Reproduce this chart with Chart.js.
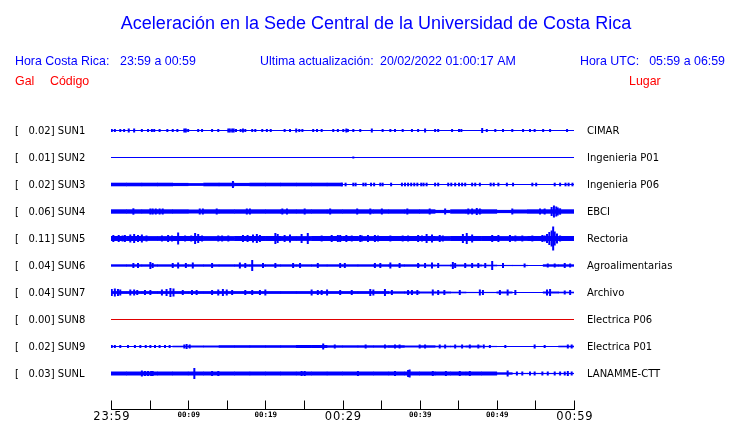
<!DOCTYPE html>
<html><head><meta charset="utf-8">
<script src="https://cdn.jsdelivr.net/npm/chart.js@4.4.1/dist/chart.umd.min.js"></script>
<style>html,body{margin:0;padding:0;background:#fff;overflow:hidden}</style>
</head><body><canvas id="c" width="740" height="423"></canvas>
<script>
// ---------------- DATA ----------------
const codes  = ['SUN1','SUN2','SUN3','SUN4','SUN5','SUN6','SUN7','SUN8','SUN9','SUNL'];
const peakGal = [0.02, 0.01, 0.02, 0.06, 0.11, 0.04, 0.04, 0.00, 0.02, 0.03];
const places = ['CIMAR','Ingenieria P01','Ingenieria P06','EBCI','Rectoria','Agroalimentarias','Archivo','Electrica P06','Electrica P01','LANAMME-CTT'];
const tickMinutes = [0,5,10,15,20,25,30,35,40,45,50,55,60];
const tickLabels = ['23:59','00:09','00:19','00:29','00:39','00:49','00:59'];
const tickLabelMinutes = [0,10,20,30,40,50,60];
const majorLabelMinutes = [0,30,60];
// noise band half-amplitude per 2-minute segment (30 segments)
const bandSUN1 = [0,0,0,0,0,0,0,0,0,0,0,0,0,0,0,0,0,0,0,0,0,0,0,0,0,0,0,0,0,0];
const bandSUN2 = [0,0,0,0,0,0,0,0,0,0,0,0,0,0,0,0,0,0,0,0,0,0,0,0,0,0,0,0,0,0];
const bandSUN3 = [1.8,1.8,1.8,1.8,1.6,1.4,1.8,1.8,1.6,1.8,1.8,1.8,1.8,1.8,1.8,0,0,0,0,0,0,0,0,0,0,0,0,0,0,0];
const bandSUN4 = [2.2,2.2,2.2,2.2,2.2,2.0,2.2,2.2,2.2,2.2,2.2,2.2,2.2,2.2,2.2,2.2,2.2,2.2,2.2,2.2,2.2,1.6,2.2,2.2,2.2,1.6,2.0,2.2,2.2,2.2];
const bandSUN5 = [2.5,2.5,2.4,2.4,2.5,2.5,2.4,2.4,2.5,2.5,2.5,2.4,2.4,2.5,2.5,2.5,2.4,2.5,2.5,2.5,2.5,2.4,2.5,2.5,2.5,2.4,2.4,2.5,2.5,2.5];
const bandSUN6 = [1.2,1.2,1.2,1.2,1.2,1.2,1.2,1.2,1.2,1.2,1.2,1.2,1.2,1.2,1.2,1.2,1.2,1.2,1.2,1.2,1.0,0.8,1.0,1.0,0.8,0.6,0.6,0.5,1.2,1.2];
const bandSUN7 = [1.4,1.4,1.4,1.4,1.4,1.4,1.4,1.4,1.4,1.4,1.4,1.4,1.4,1.4,1.4,1.4,1.4,1.4,1.2,1.2,1.0,1.0,0.8,0.6,0.6,1.0,0.5,0.5,1.0,0.8];
const bandSUN8 = [0,0,0,0,0,0,0,0,0,0,0,0,0,0,0,0,0,0,0,0,0,0,0,0,0,0,0,0,0,0];
const bandSUN9 = [0.5,0.5,0.5,0.5,0.8,1.0,1.0,1.3,1.3,1.3,1.3,1.3,1.5,1.5,1.2,1.2,1.2,1.2,1.3,1.0,1.2,0.8,0.8,1.0,0.6,0.5,0.5,0.5,0.5,0.8];
const bandSUNL = [2.0,2.0,2.0,2.0,2.0,2.0,2.0,2.0,2.0,2.0,2.0,2.0,2.0,2.0,2.0,2.0,2.0,2.0,2.0,2.0,2.0,2.0,2.0,2.0,2.0,1.2,0.6,0.6,0.6,0.6];
// bursts: [minute, half-amplitude]
const spikesSUN1 = [[0.1,1.5],[0.5,1.5],[1.2,1.5],[1.7,1.5],[2.3,2],[3.0,2],[4.0,1.5],[4.8,1.5],[5.3,1.5],[5.6,1.5],[6.3,1.5],[7.3,1.5],[8.0,1.5],[8.6,1.5],[9.5,2],[9.7,2],[10.0,1.5],[11.3,1.5],[11.8,1.5],[13.1,1.5],[13.9,1.5],[15.2,2],[15.4,2],[15.7,2],[15.9,2],[16.2,1.5],[16.8,1.5],[17.1,2],[17.4,1.5],[18.3,1.5],[18.7,1.5],[19.6,1.5],[20.2,1.5],[20.7,1.5],[22.5,1.5],[23.2,1.5],[24.0,2],[24.4,1.5],[24.8,1.5],[26.2,1.5],[26.7,1.5],[27.3,1.5],[28.8,1.5],[29.4,1.5],[30.1,1.5],[30.5,2],[30.7,1.5],[31.4,1.5],[32.3,1.5],[33.8,2],[35.2,1.5],[36.2,1.5],[36.8,1.5],[37.8,1.5],[39.0,1.5],[39.8,1.5],[40.7,2],[42.0,1.5],[42.4,1.5],[44.2,1.5],[45.1,1.5],[45.4,1.5],[48.1,2.5],[48.7,1.5],[49.8,1.5],[50.8,1.5],[52.0,1.5],[53.4,1.5],[54.3,1.5],[54.9,1.5],[56.0,1.5],[56.9,1.5],[59.1,1.5]];
const spikesSUN2 = [[31.4,1]];
const spikesSUN3 = [[15.8,3.5],[29.9,1.8],[30.4,1.8],[31.4,1.8],[31.7,1.8],[32.7,1.8],[33.0,1.8],[33.7,1.8],[34.1,1.8],[34.9,1.8],[35.2,1.8],[36.3,1.8],[37.7,1.8],[38.1,1.8],[38.5,1.8],[38.9,1.8],[39.3,1.8],[39.7,1.8],[40.2,1.8],[40.5,1.8],[40.9,1.8],[42.0,1.8],[42.4,1.8],[43.7,1.8],[44.1,1.8],[44.6,1.8],[45.1,1.8],[45.5,1.8],[45.9,1.8],[46.8,1.8],[47.2,1.8],[47.8,1.8],[49.2,1.8],[49.6,1.8],[50.2,1.8],[51.3,1.8],[52.1,1.8],[54.6,1.8],[55.1,1.8],[57.5,1.8],[58.2,1.8],[58.9,1.8],[59.3,1.8],[59.8,1.8]];
const spikesSUN4 = [[2.9,3.2],[5.1,3],[5.4,3],[5.8,3],[6.3,3],[6.7,3],[11.5,3],[11.9,3],[13.7,3],[17.6,3],[18.0,3],[22.2,3],[22.8,3],[25.1,3],[28.4,3],[31.9,3],[33.6,3],[35.1,3],[38.4,3],[41.3,3],[43.3,3],[46.3,3],[46.8,3],[47.4,3.5],[47.8,3],[52.0,3],[55.6,3],[56.2,3],[57.1,4.5],[57.4,6],[57.7,5],[57.9,4],[58.2,3.2]];
const spikesSUN5 = [[0.3,3.5],[1.0,3.5],[1.5,3],[1.8,3.5],[2.5,4],[3.0,4.5],[3.5,3.5],[4.0,4],[4.6,3],[6.6,3],[7.4,3.5],[7.9,3],[8.7,6],[9.6,3],[10.4,3],[10.9,5.5],[11.3,4.5],[11.8,3],[13.9,3],[14.4,3],[15.2,3],[17.1,3.5],[17.7,3.5],[18.4,4],[18.9,4.5],[19.3,3.5],[21.3,5.5],[21.6,4.5],[22.5,3.5],[23.2,4],[24.7,4.5],[25.5,5.5],[27.3,3],[28.6,3.5],[29.4,3.5],[29.7,3.5],[30.5,3.5],[31.2,3],[32.3,3.5],[32.5,3],[33.3,3.5],[34.2,3.5],[34.6,3],[36.2,3],[37.8,3],[38.5,3],[39.8,3.5],[40.3,3],[40.9,4.5],[41.6,4],[42.6,3.5],[43.0,3],[45.6,4.5],[46.1,5.5],[46.8,4],[49.4,3.5],[50.2,3.5],[51.7,3.5],[52.4,3],[53.3,3],[54.6,3],[55.9,3.5],[56.2,3],[56.5,4.5],[56.8,6.5],[57.1,8],[57.3,12],[57.5,7],[57.8,5],[58.2,3]];
const spikesSUN6 = [[2.9,2.5],[3.5,2.5],[5.1,3.5],[5.4,2.5],[8.0,2.5],[8.7,3],[9.7,2.5],[10.6,3],[13.1,2.5],[16.7,3],[17.4,2.5],[18.3,5.5],[19.7,2.5],[21.3,2.5],[23.6,2.5],[24.5,2.5],[26.8,2.5],[29.7,2.5],[30.3,2.5],[34.2,2.5],[34.9,2.5],[36.2,3],[37.4,2.5],[39.8,2.5],[40.7,2.5],[41.6,3],[42.4,2.5],[44.3,3.5],[44.6,2.5],[45.9,2.5],[46.8,2.5],[47.6,2.5],[48.5,2.5],[49.4,4.5],[50.8,2.5],[53.6,2],[56.6,2],[57.5,2],[58.8,2.5],[59.5,2]];
const spikesSUN7 = [[0.1,3.5],[0.5,4],[0.9,3.5],[1.2,3],[2.5,3],[3.0,3],[3.4,2.5],[4.4,2.5],[5.1,2.5],[6.6,3],[7.2,3.5],[7.7,4.5],[8.1,4],[9.3,2.5],[10.5,2.5],[11.1,2.5],[13.1,2.5],[13.9,3],[14.5,3.5],[15.0,3],[15.7,2.5],[17.4,2.5],[18.3,2.5],[19.3,2.5],[20.0,3],[26.0,3],[26.8,2.5],[27.3,2.5],[28.0,3],[29.7,2.5],[31.2,2.5],[33.6,3.5],[34.0,3],[35.5,3.5],[36.4,2.5],[38.5,2.5],[39.0,2.5],[39.7,2.5],[41.7,3],[42.4,2.5],[43.2,2.5],[45.2,2.5],[47.8,3],[48.2,2.5],[50.4,2.5],[51.4,3],[52.4,2.5],[56.5,3],[56.9,3.5],[58.8,2],[59.5,2.5]];
const spikesSUN8 = [];
const spikesSUN9 = [[0.1,1.5],[0.5,1.5],[1.2,1.5],[2.2,1.5],[3.1,1.5],[3.8,1.5],[4.5,1.5],[5.1,1.5],[5.7,1.5],[6.3,1.5],[7.0,1.5],[7.6,1.5],[9.5,2],[9.8,2.5],[10.2,2],[27.5,3],[29.0,2],[33.0,2],[35.5,2],[36.8,2],[37.4,2],[40.0,2],[40.7,2],[42.6,2],[43.3,2],[44.6,2],[45.5,2],[46.5,2],[47.6,2],[48.3,2],[49.1,1.5],[51.1,1.5],[54.9,2],[56.2,1.5],[59.2,2],[59.7,2]];
const spikesSUNL = [[4.0,3],[4.4,2.5],[4.8,2.5],[5.2,2.5],[5.4,2.5],[10.8,5.5],[13.1,2.5],[13.9,2.5],[24.7,2.5],[25.1,2.5],[32.0,2.5],[36.8,2.5],[38.5,3.5],[38.7,4],[41.7,2.5],[43.4,2.5],[45.2,2.5],[46.5,2.5],[51.4,3],[52.6,2],[53.3,2],[54.3,2],[54.9,2],[55.9,2],[56.6,2],[57.5,2],[58.2,2],[58.8,2],[59.2,2.5],[59.7,2]];

const bands  = [bandSUN1,bandSUN2,bandSUN3,bandSUN4,bandSUN5,bandSUN6,bandSUN7,bandSUN8,bandSUN9,bandSUNL];
const spikes = [spikesSUN1,spikesSUN2,spikesSUN3,spikesSUN4,spikesSUN5,spikesSUN6,spikesSUN7,spikesSUN8,spikesSUN9,spikesSUNL];
const deadTraces = ['SUN8'];

// ---------------- CHART ----------------
const TRACE_GAP = 27, SEG_MIN = 2, SPAN = 60;
const BLUE = '#0000ff', RED = '#e00000';
const datasets = [];
codes.forEach((code, i) => {
  const c = (i + 1) * TRACE_GAP;
  const col = deadTraces.includes(code) ? RED : BLUE;
  datasets.push({type:'line', data:[{x:0,y:c},{x:SPAN,y:c}], borderColor:col, borderWidth:1, pointRadius:0, fill:false});
  const bd = bands[i].map((a, k) => a > 0 ? {x:(k + 0.5) * SEG_MIN, y:[c - a, c + a]} : null).filter(Boolean);
  if (bd.length) datasets.push({type:'bar', data:bd, backgroundColor:col, borderWidth:0, barThickness:16, grouped:false, inflateAmount:0});
  const sp = spikes[i].map(([m, a]) => ({x:m, y:[c - a, c + a]}));
  if (sp.length) datasets.push({type:'bar', data:sp, backgroundColor:col, borderWidth:0, barThickness:2, grouped:false, inflateAmount:0});
});

const textPlugin = {
  id:'texts',
  afterDraw(chart) {
    const ctx = chart.ctx, xs = chart.scales.x, ys = chart.scales.y;
    ctx.save();
    ctx.fillStyle = BLUE; ctx.textBaseline = 'alphabetic';
    ctx.font = '18px "Liberation Sans", Arial, sans-serif'; ctx.textAlign = 'center';
    ctx.fillText('Aceleración en la Sede Central de la Universidad de Costa Rica', 376, 29);
    ctx.font = '12.4px "Liberation Sans", Arial, sans-serif'; ctx.textAlign = 'left';
    ctx.fillText('Hora Costa Rica:', 15, 65);
    ctx.fillText('23:59 a 00:59', 120, 65);
    ctx.fillText('Ultima actualización:', 260, 65);
    ctx.fillText('20/02/2022 01:00:17 AM', 380, 65);
    ctx.fillText('Hora UTC:', 580, 65);
    ctx.textAlign = 'right';
    ctx.fillText('05:59 a 06:59', 725, 65);
    ctx.fillStyle = '#ff0000'; ctx.textAlign = 'left';
    ctx.fillText('Gal', 15, 85);
    ctx.fillText('Código', 50, 85);
    ctx.fillText('Lugar', 629, 85);
    ctx.fillStyle = '#000';
    ctx.font = '10px "DejaVu Sans", sans-serif';
    codes.forEach((code, i) => {
      const y = ys.getPixelForValue((i + 1) * TRACE_GAP) + 3;
      ctx.textAlign = 'left';
      ctx.fillText('[   ' + peakGal[i].toFixed(2) + '] ' + code, 15, y);
      ctx.fillText(places[i], 587, y);
    });
    const yAx = Math.round(chart.chartArea.bottom) + 0.5;
    ctx.strokeStyle = '#000'; ctx.lineWidth = 1;
    ctx.beginPath();
    ctx.moveTo(Math.round(xs.getPixelForValue(0)), yAx);
    ctx.lineTo(Math.round(xs.getPixelForValue(SPAN)) + 1, yAx);
    tickMinutes.forEach(m => {
      const x = Math.round(xs.getPixelForValue(m)) + 0.5;
      ctx.moveTo(x, yAx); ctx.lineTo(x, yAx - 9);
    });
    ctx.stroke();
    ctx.textAlign = 'center';
    tickLabelMinutes.forEach((m, j) => {
      const x = xs.getPixelForValue(m) + 0.5;
      if (majorLabelMinutes.includes(m)) {
        ctx.font = '11.5px "DejaVu Sans", sans-serif';
        ctx.letterSpacing = '0.8px';
        ctx.fillText(tickLabels[j], x + 0.4, yAx + 10.5);
      } else {
        ctx.font = 'bold 7.5px "DejaVu Sans Mono", monospace';
        ctx.letterSpacing = '0px';
        ctx.fillText(tickLabels[j], x, yAx + 7.5);
      }
    });
    ctx.restore();
  }
};

new Chart(document.getElementById('c'), {
  type:'bar',
  data:{datasets},
  options:{
    responsive:false, animation:false, devicePixelRatio:1, events:[],
    layout:{padding:{left:111, right:166, top:116, bottom:14}},
    scales:{
      x:{type:'linear', min:0, max:SPAN, display:false, offset:false},
      y:{type:'linear', min:12.5, max:305.5, reverse:true, display:false}
    },
    plugins:{legend:{display:false}, tooltip:{enabled:false}, title:{display:false}}
  },
  plugins:[textPlugin]
});
</script></body></html>
